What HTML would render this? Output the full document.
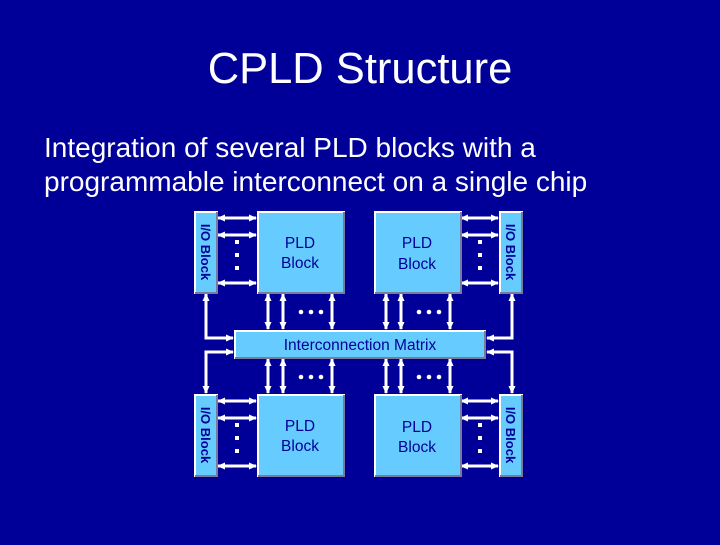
<!DOCTYPE html>
<html><head><style>
body{margin:0;width:720px;height:540px;background:#000099;overflow:hidden;font-family:"Liberation Sans",sans-serif;}
</style></head><body>
<svg width="720" height="540" xmlns="http://www.w3.org/2000/svg" font-family="Liberation Sans, sans-serif">
<defs>
<marker id="a" markerWidth="8" markerHeight="8" refX="7" refY="4" orient="auto-start-reverse" markerUnits="userSpaceOnUse"><path d="M0,0.5 L8,4 L0,7.5 z" fill="#fff"/></marker>
</defs>
<rect width="720" height="540" fill="#000099"/>
<text x="360" y="83" fill="#fff" font-size="43.5" text-anchor="middle">CPLD Structure</text>
<text x="44" y="157" fill="#fff" font-size="28">Integration of several PLD blocks with a</text>
<text x="44" y="191" fill="#fff" font-size="28">programmable interconnect on a single chip</text>

<g stroke="#fff" stroke-width="3" fill="none">
<g marker-start="url(#a)" marker-end="url(#a)">
<line x1="218" y1="218" x2="256" y2="218"/><line x1="218" y1="235" x2="256" y2="235"/><line x1="218" y1="283" x2="256" y2="283"/>
<line x1="461" y1="218" x2="498" y2="218"/><line x1="461" y1="235" x2="498" y2="235"/><line x1="461" y1="283" x2="498" y2="283"/>
<line x1="218" y1="401" x2="256" y2="401"/><line x1="218" y1="418" x2="256" y2="418"/><line x1="218" y1="466" x2="256" y2="466"/>
<line x1="461" y1="401" x2="498" y2="401"/><line x1="461" y1="418" x2="498" y2="418"/><line x1="461" y1="466" x2="498" y2="466"/>
<line x1="268" y1="294" x2="268" y2="329"/><line x1="283" y1="294" x2="283" y2="329"/><line x1="332" y1="294" x2="332" y2="329"/>
<line x1="386" y1="294" x2="386" y2="329"/><line x1="401" y1="294" x2="401" y2="329"/><line x1="450" y1="294" x2="450" y2="329"/>
<line x1="268" y1="359" x2="268" y2="393"/><line x1="283" y1="359" x2="283" y2="393"/><line x1="332" y1="359" x2="332" y2="393"/>
<line x1="386" y1="359" x2="386" y2="393"/><line x1="401" y1="359" x2="401" y2="393"/><line x1="450" y1="359" x2="450" y2="393"/>
<polyline points="206,294 206,338 233,338"/><polyline points="206,393 206,352 233,352"/>
<polyline points="512,294 512,338 487,338"/><polyline points="512,393 512,352 487,352"/>
</g>
</g>

<g fill="#fff">
<g id="vd"><rect x="235" y="240" width="4" height="4"/><rect x="235" y="253" width="4" height="4"/><rect x="235" y="266" width="4" height="4"/></g>
<use href="#vd" x="243"/><use href="#vd" y="183"/><use href="#vd" x="243" y="183"/>
<g id="hd"><circle cx="301" cy="312" r="2.3"/><circle cx="311" cy="312" r="2.3"/><circle cx="321" cy="312" r="2.3"/></g>
<use href="#hd" x="118"/><use href="#hd" y="65"/><use href="#hd" x="118" y="65"/>
</g>

<g stroke-width="2">
<g id="pld"><rect x="258" y="212" width="86" height="81" fill="#66ccff" stroke="#fff"/><path d="M344,212 V293 H258" fill="none" stroke="#7a7a9a"/></g>
<use href="#pld" x="117"/><use href="#pld" y="183"/><use href="#pld" x="117" y="183"/>
<g id="io"><rect x="195" y="212" width="22" height="81" fill="#66ccff" stroke="#fff"/><path d="M217,212 V293 H195" fill="none" stroke="#7a7a9a"/></g>
<use href="#io" x="305"/><use href="#io" y="183"/><use href="#io" x="305" y="183"/>
<rect x="235" y="331" width="250" height="27" fill="#66ccff" stroke="#fff"/><path d="M485,331 V358 H235" fill="none" stroke="#7a7a9a"/>
</g>

<g fill="#000099" font-size="15.5" text-anchor="middle">
<text x="300" y="248">PLD</text><text x="300" y="268">Block</text>
<text x="417" y="248">PLD</text><text x="417" y="269">Block</text>
<text x="300" y="431">PLD</text><text x="300" y="451">Block</text>
<text x="417" y="432">PLD</text><text x="417" y="452">Block</text>
<text x="360" y="350">Interconnection Matrix</text>
</g>
<g fill="#000099" font-size="13" font-weight="bold" text-anchor="middle">
<text transform="translate(201,252) rotate(90)">I/O Block</text>
<text transform="translate(506,252) rotate(90)">I/O Block</text>
<text transform="translate(201,435) rotate(90)">I/O Block</text>
<text transform="translate(506,435) rotate(90)">I/O Block</text>
</g>
</svg>
</body></html>
